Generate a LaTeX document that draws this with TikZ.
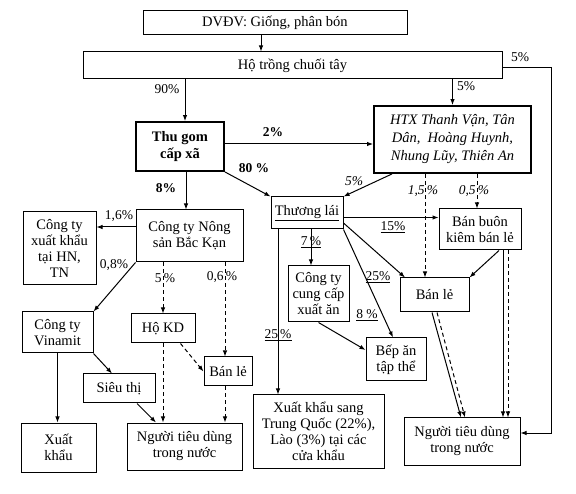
\documentclass[tikz,border=0pt]{standalone}
\usepackage{fontspec}
\setmainfont{Liberation Serif}
\usetikzlibrary{calc,arrows.meta}

\begin{document}
\begin{tikzpicture}[x=1pt, y=-1pt, line width=1pt, % 座標は画像のpx、線幅
  box/.style={draw, align=center, inner sep=1pt, font=\fontsize{14.5}{16}\selectfont}, % 箱
  thickbox/.style={box, line width=1.9pt}, % 太枠の箱
  lbl/.style={font=\fontsize{13.5}{15}\selectfont, inner sep=0pt}, % 割合
  arr/.style={-{Latex[length=6pt, width=4.5pt]}}, % 矢印
  darr/.style={arr, dash pattern=on 4pt off 3pt}] % 破線の矢印
  \useasboundingbox (0,0) rectangle (576,494); % 余白込みの大きさ

  \node[box, minimum width=264, minimum height=24] (dvdv) at (275,23) {DVĐV: Giống, phân bón}; % 最上段
  \node[box, minimum width=419, minimum height=27] (ho) at (292.5,65.5) {Hộ trồng chuối tây}; % 農家
  \node[thickbox, minimum width=88, minimum height=49, font=\fontsize{14.5}{17}\selectfont\bfseries] (thugom) at (180,146.5) {Thu gom\\cấp xã};
  \node[thickbox, minimum width=157, minimum height=67, font=\fontsize{14.5}{18}\selectfont\itshape] (htx) at (452.5,139.5) {HTX Thanh Vận, Tân\\Dân,\ \ Hoàng Huynh,\\Nhung Lũy, Thiên An};
  \node[box, minimum width=107, minimum height=52] (nongsan) at (189.5,236) {Công ty Nông\\sản Bắc Kạn};
  \node[box, minimum width=73, minimum height=73] (xkhn) at (59.5,248.5) {Công ty\\xuất khẩu\\tại HN,\\TN};
  \node[box, minimum width=72, minimum height=32] (thuonglai) at (307,213) {\underline{Thương lái}};
  \node[box, minimum width=82, minimum height=41] (banbuon) at (480,229.5) {Bán buôn\\kiêm bán lẻ};
  \node[box, minimum width=61, minimum height=56] (cungcap) at (318.5,294) {Công ty\\cung cấp\\xuất ăn};
  \node[box, minimum width=69, minimum height=34] (banle) at (434.5,295) {Bán lẻ};
  \node[box, minimum width=60, minimum height=43] (bepan) at (396,359.5) {Bếp ăn\\tập thể};
  \node[box, minimum width=71, minimum height=41] (vinamit) at (57.5,332.5) {Công ty\\Vinamit};
  \node[box, minimum width=64, minimum height=29] (hokd) at (163,328.5) {Hộ KD};
  \node[box, minimum width=48, minimum height=29] (banlehai) at (228,371.5) {Bán lẻ};
  \node[box, minimum width=72, minimum height=29] (sieuthi) at (119,388.5) {Siêu thị};
  \node[box, minimum width=75, minimum height=49] (xk) at (58.5,447.5) {Xuất\\khẩu};
  \node[box, minimum width=115, minimum height=47] (ntdmot) at (184.5,446.5) {Người tiêu dùng\\trong nước};
  \node[box, minimum width=131, minimum height=73] (xktq) at (318.5,431.5) {Xuất khẩu sang\\Trung Quốc (22\%),\\Lào (3\%) tại các\\cửa khẩu};
  \node[box, minimum width=116, minimum height=47] (ntdhai) at (462,441.5) {Người tiêu dùng\\trong nước};

  % 上段
  \draw[arr] ([xshift=-14]dvdv.south) -- ([xshift=-14]dvdv.south |- ho.north);
  \draw[arr] ([xshift=5]thugom.north |- ho.south) -- ([xshift=5]thugom.north) node[lbl] at (167,89) {90\%};
  \draw[arr] (htx.north |- ho.south) -- (htx.north) node[lbl] at (466,86) {5\%};
  \draw[arr] ([yshift=-2.5]ho.east) -- ++(49,0) |- ([yshift=8.5]ntdhai.east) node[lbl] at (520,57) {5\%}; % 右端の線
  \draw[arr] ([yshift=2.5]thugom.east) -- ([yshift=2.5]thugom.east -| htx.west) node[lbl, font=\fontsize{13.5}{15}\selectfont\bfseries] at (273,132) {2\%};
  \draw[arr] (thugom.south east) -- (thuonglai.north west) node[lbl, font=\fontsize{13.5}{15}\selectfont\bfseries] at (254,168) {80 \%};
  \draw[arr] ([xshift=6]thugom.south) -- ([xshift=6]thugom.south |- nongsan.north) node[lbl, font=\fontsize{13.5}{15}\selectfont\bfseries] at (166,188) {8\%};

  % Công ty Nông sản
  \draw[arr] ([yshift=9]nongsan.west) -- ([yshift=9]nongsan.west -| xkhn.east) node[lbl] at (119,216) {1,6\%};
  \draw[arr] (nongsan.south west) -- (vinamit.north east) node[lbl] at (114,265) {0,8\%};
  \draw[darr] (hokd.north |- nongsan.south) -- (hokd.north) node[lbl] at (165,278) {5\,\%};
  \draw[darr] ([xshift=-3]banlehai.north |- nongsan.south) -- ([xshift=-3]banlehai.north) node[lbl] at (222,277) {0,6\,\%};
  \draw[darr] ([xshift=-15]hokd.south east) -- (banlehai.west);
  \draw[arr] (vinamit.south east) -- ([xshift=-7]sieuthi.north);
  \draw[arr] (vinamit.south) -- (vinamit.south |- xk.north);
  \draw[arr] ([xshift=18]sieuthi.south) -- ([xshift=-28.5]ntdmot.north);
  \draw[darr] (hokd.south) -- (hokd.south |- ntdmot.north);
  \draw[darr] ([xshift=-3]banlehai.south) -- ([xshift=-3]banlehai.south |- ntdmot.north);

  % HTX
  \draw[arr] ([xshift=-60.5]htx.south) -- (thuonglai.north east) node[lbl, font=\fontsize{13.5}{15}\selectfont\itshape] at (354,181) {5\%};
  \draw[darr] ([xshift=-27.5]htx.south) -- ([xshift=-27.5]htx.south |- banle.north) node[lbl, font=\fontsize{13.5}{15}\selectfont\itshape] at (423,191) {1,5\,\%};
  \draw[darr] ([xshift=-3]banbuon.north |- htx.south) -- ([xshift=-3]banbuon.north) node[lbl, font=\fontsize{13.5}{15}\selectfont\itshape] at (474,191) {0,5\,\%};

  % Thương lái
  \draw[arr] ([yshift=-4.5]thuonglai.east) -- ([yshift=-4.5]thuonglai.east -| banbuon.west) node[lbl] at (393,227) {\underline{15\%}};
  \draw[arr] ([xshift=-7.5]cungcap.north |- thuonglai.south) -- ([xshift=-7.5]cungcap.north) node[lbl] at (311,242) {\underline{7\,\%}};
  \draw[arr] ([yshift=-10]thuonglai.east) -- ([xshift=-29.5]banle.north) node[lbl] at (378,277) {\underline{25\%}};
  \draw[arr] (thuonglai.south east) -- ([xshift=-3]bepan.north) node[lbl] at (367,315) {\underline{8 \%}};
  \draw[arr] (cungcap.south) -- ([yshift=9.5]bepan.west);
  \draw[arr] ([xshift=-40.5]xktq.north |- thuonglai.south) -- ([xshift=-40.5]xktq.north) node[lbl] at (278,335) {\underline{25\,\%}};

  % Bán buôn, Bán lẻ
  \draw[arr] ([xshift=19]banbuon.south) -- (banle.north east);
  \draw[arr] ([xshift=23]banbuon.south) -- ([xshift=23]banbuon.south |- ntdhai.north);
  \draw[darr] ([xshift=28]banbuon.south) -- ([xshift=28]banbuon.south |- ntdhai.north);
  \draw[arr] ([xshift=-2.5]banle.south) -- ([xshift=-1]ntdhai.north);
  \draw[darr] ([xshift=2.5]banle.south) -- ([xshift=3]ntdhai.north);
\end{tikzpicture}
\end{document}
